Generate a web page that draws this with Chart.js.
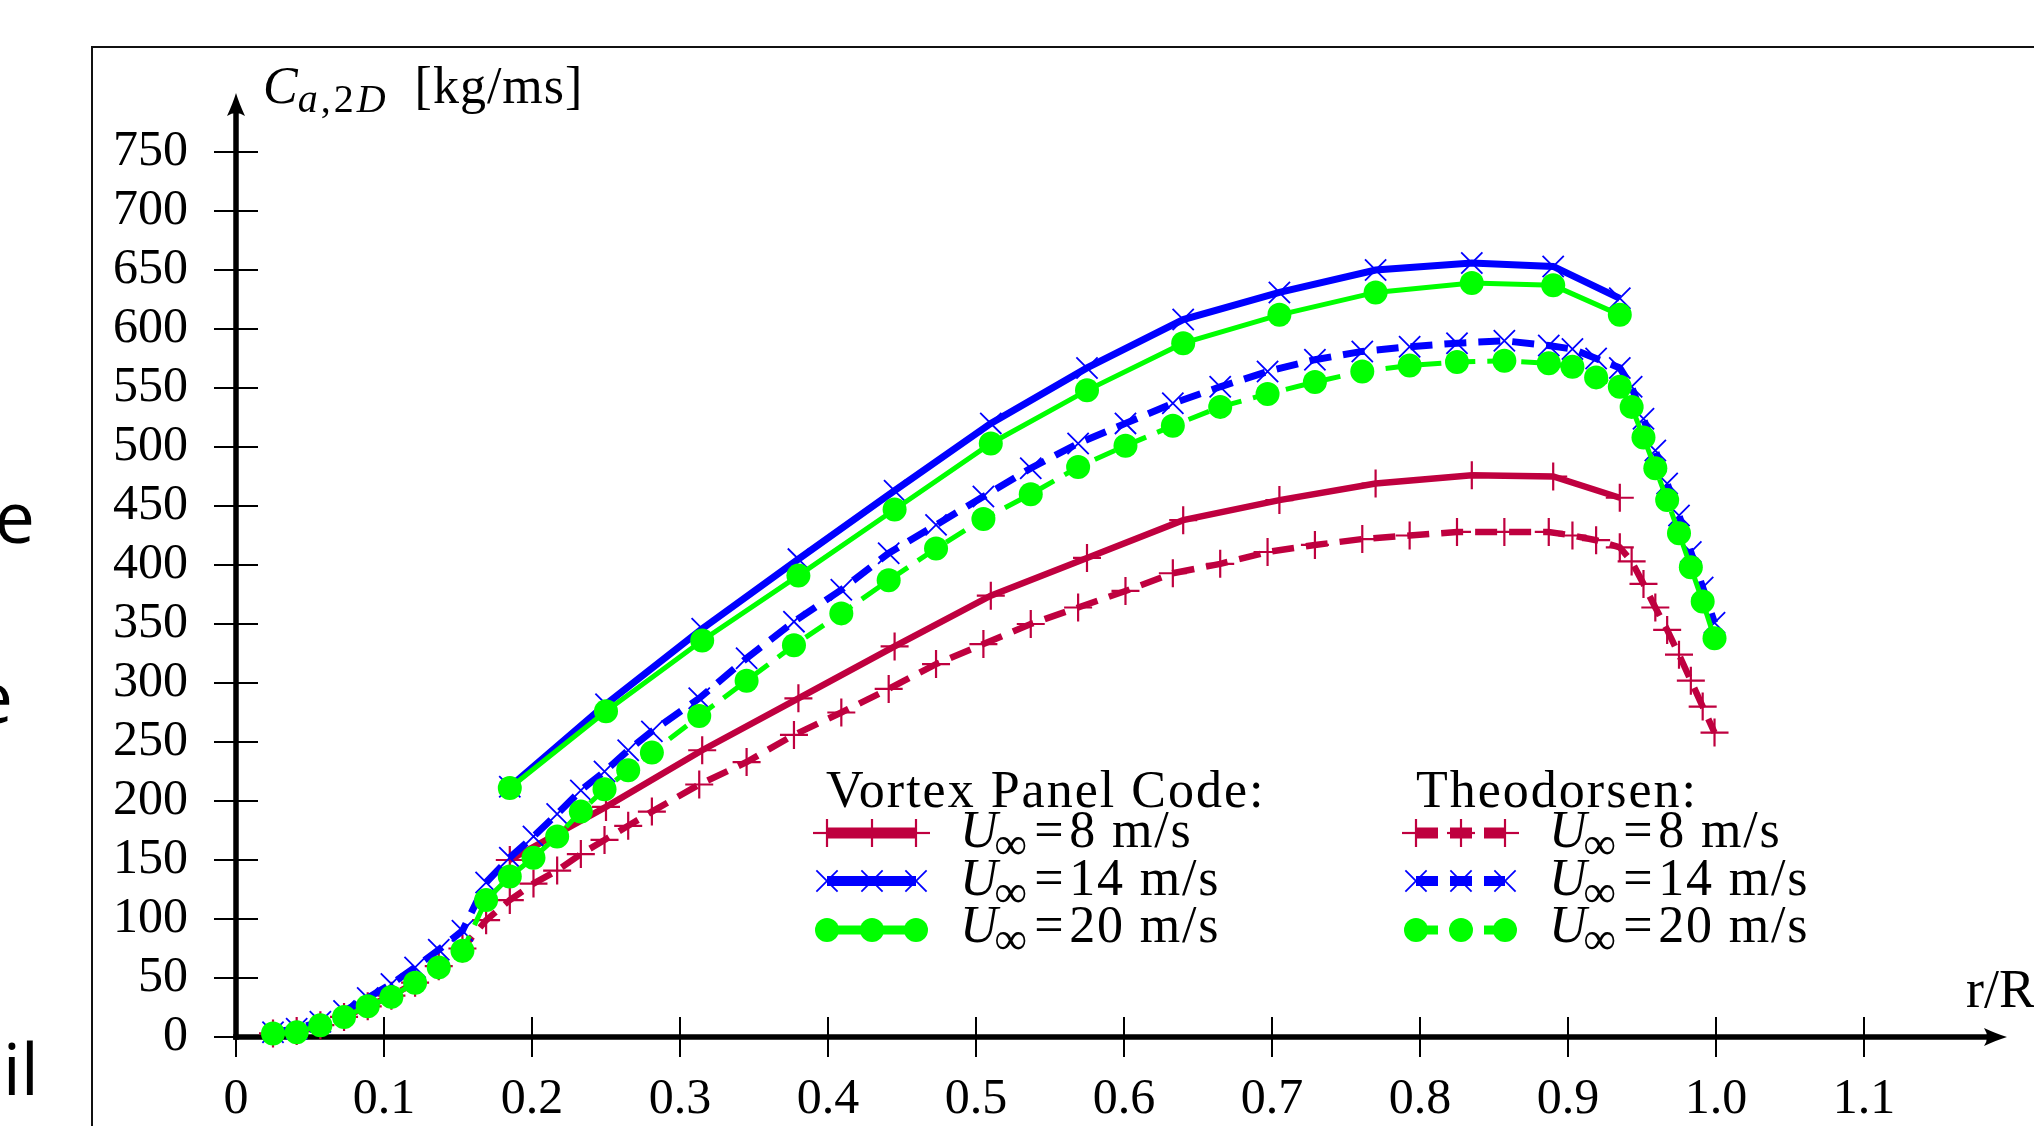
<!DOCTYPE html>
<html><head><meta charset="utf-8">
<script src="https://cdn.jsdelivr.net/npm/chart.js@4.4.0/dist/chart.umd.min.js"></script>
<style>
html,body{margin:0;padding:0;background:#fff;width:2034px;height:1126px;overflow:hidden;}
#wrap{position:relative;width:2034px;height:1126px;overflow:hidden;}
#c{position:absolute;left:0;top:0;}
.frame{position:absolute;left:91px;top:46px;width:3000px;height:3000px;border-left:2px solid #111;border-top:2px solid #111;}
.t{position:absolute;font-family:"Liberation Serif",serif;color:#000;white-space:nowrap;line-height:1;font-size:52px;}
.hdr{letter-spacing:2px;}
.ent{letter-spacing:1.8px;}
.inf{font-size:46px;position:relative;top:12px;margin-left:-5px;margin-right:3px;letter-spacing:0;}
.eq{margin:0 4px;}
.side{position:absolute;font-family:"Open Sans",sans-serif;font-size:72px;line-height:1;white-space:nowrap;color:#000;}
</style></head>
<body>
<div id="wrap">
<div class="frame"></div>
<canvas id="c" width="2034" height="1126"></canvas>

<div class="side" style="right:1999px;top:479px;">e</div>
<div class="side" style="right:2021px;top:659px;">e</div>
<div class="side" style="right:1995px;top:1031px;">oil</div>

<div class="t" style="left:263px;top:60px;"><i>C</i><span style="font-size:40px;position:relative;top:9px;letter-spacing:3px;"><i>a</i>,2<i>D</i></span><span style="margin-left:26px;letter-spacing:1px;">[kg/ms]</span></div>
<div class="t" style="left:1966px;top:962px;font-size:54px;">r/R</div>

<div class="t hdr" style="left:826px;top:764px;">Vortex Panel Code:</div>
<div class="t ent" style="left:960px;top:804px;"><i>U</i><span class="inf">∞</span><span class="eq">=</span>8 m/s</div>
<div class="t ent" style="left:960px;top:852px;"><i>U</i><span class="inf">∞</span><span class="eq">=</span>14 m/s</div>
<div class="t ent" style="left:960px;top:899px;"><i>U</i><span class="inf">∞</span><span class="eq">=</span>20 m/s</div>

<div class="t hdr" style="left:1416px;top:764px;">Theodorsen:</div>
<div class="t ent" style="left:1549px;top:804px;"><i>U</i><span class="inf">∞</span><span class="eq">=</span>8 m/s</div>
<div class="t ent" style="left:1549px;top:852px;"><i>U</i><span class="inf">∞</span><span class="eq">=</span>14 m/s</div>
<div class="t ent" style="left:1549px;top:899px;"><i>U</i><span class="inf">∞</span><span class="eq">=</span>20 m/s</div>
</div>

<script>
// ---------- data ----------
const thX = [0.025, 0.041, 0.057, 0.073, 0.089, 0.105, 0.121, 0.137, 0.153, 0.169,
  0.185, 0.201, 0.217, 0.233, 0.249, 0.265, 0.281, 0.313, 0.345, 0.377, 0.409,
  0.441, 0.473, 0.505, 0.537, 0.569, 0.601, 0.633, 0.665, 0.697, 0.729, 0.761,
  0.793, 0.825, 0.857, 0.887, 0.903, 0.919, 0.935, 0.943, 0.951, 0.959, 0.967,
  0.975, 0.983, 0.991, 0.999];
const theo8 = [3, 5, 10, 17, 26, 35, 46, 60, 75, 99,
  116, 130, 141, 155, 167, 179, 191, 214, 233, 256, 275,
  295, 316, 333, 350, 364, 378, 393, 401, 411, 417, 422,
  425, 428, 428, 428, 425, 421, 415, 403, 384, 364, 345,
  324, 302, 280, 258];
const theo14 = [4, 7, 13, 22, 33, 45, 59, 74, 90, 131,
  152, 170, 189, 209, 225, 243, 259, 287, 321, 352, 379,
  410, 434, 458, 482, 503, 520, 537, 551, 564, 574, 581,
  585, 588, 590, 586, 583, 575, 567, 551, 524, 497, 469,
  442, 411, 381, 351];
const theo20 = [3, 4, 10, 17, 26, 34, 46, 59, 73, 116,
  136, 152, 170, 191, 210, 226, 241, 272, 302, 332, 359,
  387, 414, 439, 460, 483, 501, 518, 534, 545, 555, 564,
  569, 572, 573, 571, 568, 559, 551, 534, 508, 482, 455,
  427, 398, 369, 338];

const vpcX  = [0.185, 0.25, 0.315, 0.38, 0.445, 0.51, 0.575, 0.64, 0.705, 0.77, 0.835, 0.89, 0.935];
const vpc8  = [150, 195, 243, 287, 331, 374, 406, 438, 455, 469, 476, 475, 457];
const vpc14 = [212, 282, 346, 405, 463, 520, 567, 608, 631, 650, 656, 653, 626];
const vpc20 = [211, 276, 336, 391, 447, 503, 548, 588, 612, 631, 639, 637, 612];

const xTickValues = [0, 0.1, 0.2, 0.3, 0.4, 0.5, 0.6, 0.7, 0.8, 0.9, 1.0, 1.1];
const xTickLabels = ['0', '0.1', '0.2', '0.3', '0.4', '0.5', '0.6', '0.7', '0.8', '0.9', '1.0', '1.1'];
const yTickValues = [0, 50, 100, 150, 200, 250, 300, 350, 400, 450, 500, 550, 600, 650, 700, 750];
const yTickLabels = ['0', '50', '100', '150', '200', '250', '300', '350', '400', '450', '500', '550', '600', '650', '700', '750'];

// ---------- styles ----------
const CRIMSON = '#bf003f', BLUE = '#0000ff', GREEN = '#00ff00';
const DASH = [22, 12];
const pts = (xs, ys) => xs.map((x, i) => ({x: x, y: ys[i]}));

const styles = [
  {color: CRIMSON, lw: 6.5, marker: 'cross', r: 14, mlw: 2.2, dash: []},
  {color: BLUE, lw: 7, marker: 'crossRot', r: 15, mlw: 1.8, dash: []},
  {color: GREEN, lw: 5, marker: 'circle', r: 12, mlw: 0, dash: []},
  {color: CRIMSON, lw: 6.5, marker: 'cross', r: 14, mlw: 2.2, dash: DASH},
  {color: BLUE, lw: 7, marker: 'crossRot', r: 15, mlw: 1.8, dash: DASH},
  {color: GREEN, lw: 5, marker: 'circle', r: 12, mlw: 0, dash: DASH}
];
const seriesData = [pts(vpcX, vpc8), pts(vpcX, vpc14), pts(vpcX, vpc20),
                    pts(thX, theo8), pts(thX, theo14), pts(thX, theo20)];
const seriesLabels = ['VPC U=8', 'VPC U=14', 'VPC U=20', 'Theodorsen U=8', 'Theodorsen U=14', 'Theodorsen U=20'];

const datasets = styles.map((s, i) => ({
  label: seriesLabels[i],
  data: seriesData[i],
  borderColor: s.color,
  backgroundColor: s.color,
  borderWidth: s.lw,
  borderDash: s.dash,
  pointStyle: s.marker,
  pointRadius: s.r,
  pointBorderWidth: s.marker === 'circle' ? 0 : s.mlw,
  pointBorderColor: s.color,
  pointBackgroundColor: s.color,
  tension: 0,
  fill: false,
  clip: false,
  order: 6 - i
}));

function line(ctx, x1, y1, x2, y2) { ctx.beginPath(); ctx.moveTo(x1, y1); ctx.lineTo(x2, y2); ctx.stroke(); }

const axisPlugin = {
  id: 'axisDraw',
  beforeDatasetsDraw(chart) {
    const ctx = chart.ctx, x = chart.scales.x, y = chart.scales.y;
    const x0 = x.getPixelForValue(0), y0 = y.getPixelForValue(0);
    const xTip = x.getPixelForValue(1.2) - 5, yTip = y.getPixelForValue(800);
    ctx.save();
    ctx.strokeStyle = '#000'; ctx.fillStyle = '#000';
    ctx.lineWidth = 2;
    yTickValues.forEach(v => { const py = y.getPixelForValue(v); line(ctx, x0 - 22, py, x0 + 22, py); });
    xTickValues.forEach(v => { const px = x.getPixelForValue(v); line(ctx, px, y0 - 20, px, y0 + 20); });
    ctx.lineWidth = 5.5;
    line(ctx, x0 - 2.75, y0, xTip - 16, y0);
    line(ctx, x0, y0 + 2.75, x0, yTip + 16);
    // arrow heads
    ctx.beginPath();
    ctx.moveTo(xTip, y0);
    ctx.quadraticCurveTo(xTip - 10, y0 - 3, xTip - 23, y0 - 9);
    ctx.quadraticCurveTo(xTip - 17, y0, xTip - 23, y0 + 9);
    ctx.quadraticCurveTo(xTip - 10, y0 + 3, xTip, y0);
    ctx.fill();
    ctx.beginPath();
    ctx.moveTo(x0, yTip);
    ctx.quadraticCurveTo(x0 - 3, yTip + 10, x0 - 9, yTip + 23);
    ctx.quadraticCurveTo(x0, yTip + 17, x0 + 9, yTip + 23);
    ctx.quadraticCurveTo(x0 + 3, yTip + 10, x0, yTip);
    ctx.fill();
    ctx.restore();
  }
};

function drawMarker(ctx, s, px, py) {
  ctx.save();
  ctx.strokeStyle = s.color; ctx.fillStyle = s.color; ctx.setLineDash([]);
  if (s.marker === 'circle') {
    ctx.beginPath(); ctx.arc(px, py, s.r, 0, Math.PI * 2); ctx.fill();
  } else if (s.marker === 'cross') {
    ctx.lineWidth = s.mlw;
    line(ctx, px - s.r, py, px + s.r, py); line(ctx, px, py - s.r, px, py + s.r);
  } else {
    const o = s.r * Math.SQRT1_2; ctx.lineWidth = s.mlw;
    line(ctx, px - o, py - o, px + o, py + o); line(ctx, px - o, py + o, px + o, py - o);
  }
  ctx.restore();
}

const legendX = [[827, 872, 916], [1416, 1461, 1505]];
const legendY = [833, 881, 930];
const legendLW = [11, 10, 9];

const legendPlugin = {
  id: 'customLegend',
  afterDatasetsDraw(chart) {
    const ctx = chart.ctx;
    styles.forEach((s, i) => {
      const col = i < 3 ? 0 : 1, row = i % 3;
      const xs = legendX[col], yy = legendY[row];
      ctx.save();
      ctx.strokeStyle = s.color; ctx.lineWidth = legendLW[row];
      ctx.setLineDash(s.dash);
      line(ctx, xs[0], yy, xs[2], yy);
      ctx.restore();
      xs.forEach(px => drawMarker(ctx, s, px, yy));
    });
  }
};

const tickFont = {family: 'Liberation Serif', size: 50};

new Chart(document.getElementById('c'), {
  type: 'line',
  data: {datasets: datasets},
  options: {
    responsive: false,
    animation: false,
    devicePixelRatio: 1,
    layout: {padding: {left: 0, top: 93, right: 22, bottom: 0}},
    plugins: {legend: {display: false}, tooltip: {enabled: false}},
    scales: {
      x: {
        type: 'linear', min: 0, max: 1.2,
        afterFit(s) { s.height = 89; },
        afterBuildTicks(s) { s.ticks = xTickValues.map(v => ({value: v})); },
        grid: {display: false, drawTicks: false},
        border: {display: false},
        ticks: {autoSkip: false, maxRotation: 0, minRotation: 0, padding: 33, color: '#000', font: tickFont,
                callback: (v, i) => xTickLabels[i]}
      },
      y: {
        type: 'linear', min: 0, max: 800,
        afterFit(s) { s.width = 236; },
        afterBuildTicks(s) { s.ticks = yTickValues.map(v => ({value: v})); },
        grid: {display: false, drawTicks: false},
        border: {display: false},
        ticks: {autoSkip: false, padding: 48, color: '#000', font: tickFont,
                callback: (v, i) => yTickLabels[i]}
      }
    }
  },
  plugins: [axisPlugin, legendPlugin]
});
</script>
</body></html>
